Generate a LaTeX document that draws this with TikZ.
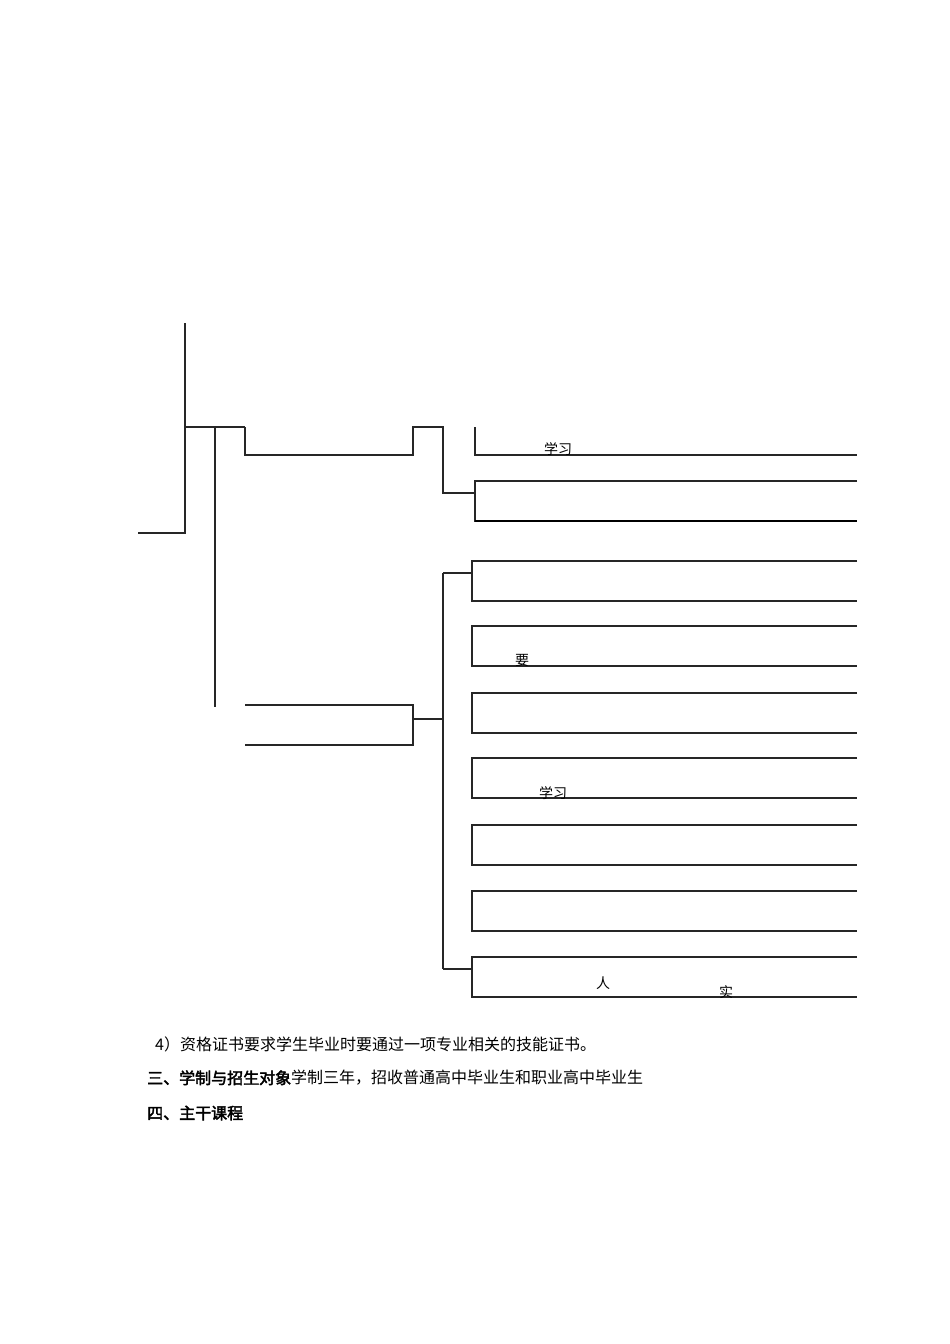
\documentclass[tikz,border=0pt]{standalone}
\usepackage{fontspec}
\newfontfamily\cjk{Noto Sans CJK SC}[AutoFakeBold=2.5]
\begin{document}
\begin{tikzpicture}[x=1pt,y=-1pt,ln/.style={line width=1.1pt,black!85},
  txt/.style={inner sep=0pt,anchor=west,font=\cjk\fontsize{16}{18}\selectfont},
  frag/.style={inner sep=0pt,font=\cjk\fontsize{14}{16}\selectfont}]
\useasboundingbox (0,0) rectangle (950,1344);
% trunk
\coordinate (t0) at (185,323); \coordinate (t1) at (185,533); \coordinate (t2) at (138,533);
\draw[ln] (t0) -- (t1) -- (t2);
\coordinate (j1) at (185,427); \coordinate (j2) at (245,427);
\draw[ln] (j1) -- (j2);
\coordinate (v0) at (215,427); \coordinate (v1) at (215,707);
\draw[ln] (v0) -- (v1);
% group 1 box
\draw[ln] (245,427) -- (245,455) -- (413,455) -- (413,427) -- (443,427) -- (443,493) -- (475,493);
\draw[ln] (475,427) -- (475,455) -- (857,455);
\draw[ln] (857,481) -- (475,481) -- (475,521) -- (857,521);
\draw[line width=1.8pt] (475,521) -- (857,521);
\node[frag] (a1) at (558,449) {学习};
% group 2 box
\draw[ln] (245,705) -- (413,705) -- (413,745) -- (245,745);
\draw[ln] (413,719) -- (443,719);
\draw[ln] (443,573) -- (443,969);
\draw[ln] (443,573) -- (472,573);
\draw[ln] (443,969) -- (472,969);
\foreach \y in {561,626,693,758,825,891,957}{
  \draw[ln] (857,\y) -- (472,\y) -- (472,\y+40) -- (857,\y+40);
}
\node[frag] (a2) at (522,660) {要};
\node[frag] (a3) at (553,793) {学习};
\node[frag] (a4) at (603,983) {人};
\node[frag] (a5) at (726,992) {实};
% text
\node[txt] (p1) at (155,1044) {4）资格证书要求学生毕业时要通过一项专业相关的技能证书。};
\node[txt] (p2) at (147,1078) {\bfseries 三、学制与招生对象\mdseries 学制三年，招收普通高中毕业生和职业高中毕业生};
\node[txt] (p3) at (147,1113) {\bfseries 四、主干课程};
\end{tikzpicture}
\end{document}
